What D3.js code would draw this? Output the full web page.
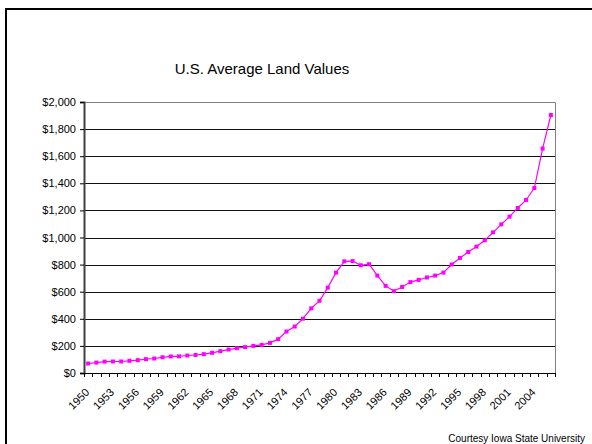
<!DOCTYPE html>
<html>
<head>
<meta charset="utf-8">
<script src="https://cdn.jsdelivr.net/npm/d3@7"></script>
<style>
  html, body { margin: 0; padding: 0; background: #fff; overflow: hidden; }
  svg { display: block; font-family: "Liberation Sans", Arial, sans-serif; }
</style>
</head>
<body>
<svg id="chart" width="592" height="444"></svg>
<script>
/* ============================================================
   DATA
============================================================ */
const years = [
  1950,1951,1952,1953,1954,1955,1956,1957,1958,1959,
  1960,1961,1962,1963,1964,1965,1966,1967,1968,1969,
  1970,1971,1972,1973,1974,1975,1976,1977,1978,1979,
  1980,1981,1982,1983,1984,1985,1986,1987,1988,1989,
  1990,1991,1992,1993,1994,1995,1996,1997,1998,1999,
  2000,2001,2002,2003,2004,2005,2006
];
const landValues = [
  70,77,84,85,85,90,95,102,107,116,
  122,123,129,133,139,149,161,173,183,191,
  200,207,222,250,306,343,401,477,533,630,
  741,824,826,795,803,719,643,604,635,671,
  687,705,719,741,801,849,893,933,979,1038,
  1097,1154,1218,1277,1365,1656,1904
];
const yTicks = [0,200,400,600,800,1000,1200,1400,1600,1800,2000];
const xTickLabels = [1950,1953,1956,1959,1962,1965,1968,1971,1974,1977,1980,1983,1986,1989,1992,1995,1998,2001,2004];

/* ============================================================
   LAYOUT
============================================================ */
const svg = d3.select("#chart");
const plot = { left: 84, right: 555, top: 102, bottom: 373 };

const x = d3.scaleBand().domain(years).range([plot.left, plot.right]).padding(0);
const y = d3.scaleLinear().domain([0, 2000]).range([plot.bottom, plot.top]);
const cx = d => x(d) + x.bandwidth() / 2;

// outer frame: only left and top edges are inside the window
svg.append("path")
  .attr("d", "M6,444V9H592")
  .attr("fill", "none").attr("stroke", "#000").attr("stroke-width", 2);

// title
svg.append("text")
  .attr("x", 262).attr("y", 74)
  .attr("text-anchor", "middle")
  .attr("font-size", 15)
  .text("U.S. Average Land Values");

// gridlines
svg.append("g").selectAll("line")
  .data(yTicks.filter(v => v > 0 && v < 2000))
  .join("line")
  .attr("x1", plot.left).attr("x2", plot.right)
  .attr("y1", d => Math.round(y(d)) + 0.5).attr("y2", d => Math.round(y(d)) + 0.5)
  .attr("stroke", "#111").attr("stroke-width", 1);

// plot border (top + right)
svg.append("path")
  .attr("d", `M${plot.left},${plot.top + 0.5}H${plot.right + 0.5}V${plot.bottom}`)
  .attr("fill", "none").attr("stroke", "#808080").attr("stroke-width", 1);

// y axis
const yAxis = svg.append("g")
  .attr("transform", `translate(${plot.left},0)`)
  .call(d3.axisLeft(y).tickValues(yTicks).tickSize(4).tickPadding(4)
    .tickFormat(d => "$" + d3.format(",")(d)));
yAxis.select(".domain").attr("stroke", "#404040").attr("stroke-width", 2);
yAxis.selectAll(".tick line").attr("stroke", "#000");
yAxis.selectAll(".tick text")
  .attr("font-size", 11).attr("fill", "#000")
  .attr("font-family", "Liberation Sans, Arial, sans-serif");

// x axis baseline + ticks at band boundaries
const xg = svg.append("g");
xg.append("line")
  .attr("x1", plot.left).attr("x2", plot.right + 1)
  .attr("y1", plot.bottom + 0.5).attr("y2", plot.bottom + 0.5)
  .attr("stroke", "#000");
xg.selectAll("line.tk")
  .data(years.concat([null]))
  .join("line")
  .attr("class", "tk")
  .attr("x1", (d, i) => Math.round(plot.left + i * x.bandwidth()) + 0.5)
  .attr("x2", (d, i) => Math.round(plot.left + i * x.bandwidth()) + 0.5)
  .attr("y1", plot.bottom).attr("y2", plot.bottom + 4)
  .attr("stroke", "#000");

// rotated category labels
xg.selectAll("text")
  .data(xTickLabels)
  .join("text")
  .attr("transform", d => `translate(${cx(d) + 2},${plot.bottom + 20}) rotate(-45)`)
  .attr("text-anchor", "end")
  .attr("font-size", 11)
  .text(d => d);

// series line
const line = d3.line()
  .x((d, i) => cx(years[i]))
  .y(d => y(d));

svg.append("path")
  .datum(landValues)
  .attr("d", line)
  .attr("fill", "none")
  .attr("stroke", "#ff00ff")
  .attr("stroke-width", 1.2);

svg.append("g").selectAll("rect")
  .data(landValues)
  .join("rect")
  .attr("x", (d, i) => cx(years[i]) - 2)
  .attr("y", d => y(d) - 2)
  .attr("width", 4).attr("height", 4)
  .attr("fill", "#ff00ff");

// credit
svg.append("text")
  .attr("x", 585).attr("y", 442)
  .attr("text-anchor", "end")
  .attr("font-size", 10)
  .text("Courtesy Iowa State University");
</script>
</body>
</html>
